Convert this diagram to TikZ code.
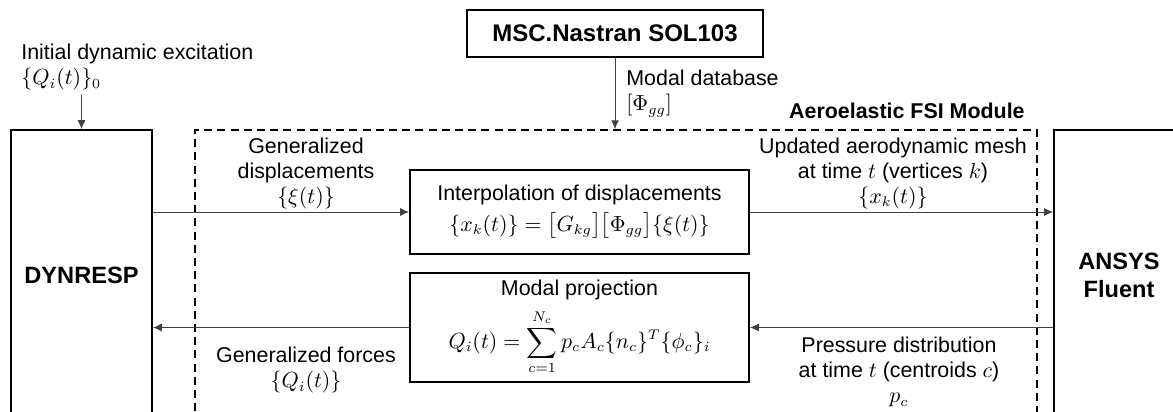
\documentclass[tikz,border=0pt]{standalone}
\usepackage{amsmath,amssymb}
\usepackage{fontspec}
\setmainfont{Liberation Sans}
\usetikzlibrary{arrows.meta, positioning}

\begin{document}
\begin{tikzpicture}[
            x=0.5pt, y=-0.5pt,
            every node/.style={font=\fontsize{10.7}{12.5}\selectfont},
            block/.style={
                rectangle,
                draw,
                line width=0.9pt,
                align=center,
                inner sep=0pt
            },
            module/.style={
                rectangle,
                draw,
                line width=0.75pt,
                dash pattern=on 4pt off 2.6pt
            },
            lbl/.style={align=center, inner sep=0pt},
            title/.style={font=\fontsize{11.8}{14}\selectfont\bfseries},
            arrow/.style={-{Latex[length=4.5pt,width=4pt]}, line width=0.5pt, draw=black!75}
        ]
        \useasboundingbox (0,0) rectangle (1173,412);
        \clip (0,0) rectangle (1173,412);

        % Blocks
        \node[block, title, minimum width=70.5pt, minimum height=145pt] (dyn) at (81.5,275) {DYNRESP};
        \node[block, title, minimum width=65pt, minimum height=145pt] (fluent) at (1119,275) {ANSYS\\Fluent};
        \node[block, font=\fontsize{12}{14}\selectfont\bfseries, minimum width=148pt, minimum height=23.5pt] (nastran) at (615,33.5) {MSC.Nastran SOL103};
        \node[module, minimum width=421pt, minimum height=150pt] (fsi) at (616,280) {};
        \node[block, minimum width=169.5pt, minimum height=42pt] (interp) at (579.5,212)
            {Interpolation of displacements\\[3pt] $\{x_k(t)\} = \bigl[G_{kg}\bigr]\bigl[\Phi_{gg}\bigr]\{\xi(t)\}$};
        \node[block, minimum width=169.5pt, minimum height=54.5pt] (proj) at (579.5,327.5)
            {Modal projection\\[4pt] $\displaystyle Q_i(t) = \sum_{c=1}^{N_c} p_c A_c \{n_c\}^T \{\phi_c\}_i$};

        % Labels
        \node[lbl, font=\fontsize{10.7}{13.5}\selectfont\bfseries, anchor=base east] (fsititle) at (1025,118) {Aeroelastic FSI Module};
        \node[lbl, align=left, anchor=north west] (init) at (21,44) {Initial dynamic excitation\\ $\{Q_i(t)\}_0$};
        \node[lbl, align=left, anchor=north west] (modes) at (626,70) {Modal database\\ $[\Phi_{gg}]$};
        \node[lbl, anchor=south] (gdisp) at (306,209) {Generalized\\displacements\\ $\{\xi(t)\}$};
        \node[lbl, anchor=south] (mesh) at (893,209) {Updated aerodynamic mesh\\at time $t$ (vertices $k$)\\ $\{x_k(t)\}$};
        \node[lbl, anchor=north] (gforce) at (306,347) {Generalized forces\\ $\{Q_i(t)\}$};
        \node[lbl, anchor=north] (press) at (899,337) {Pressure distribution\\at time $t$ (centroids $c$)\\ $p_c$};

        % Arrows
        \draw[arrow] (init.south -| dyn.north) ++(0,4) -- (dyn.north);
        \draw[arrow] (nastran.south) -- (nastran.south |- fsi.north);
        \draw[arrow] (dyn.east |- interp.west) -- (interp.west);
        \draw[arrow] (interp.east) -- (fluent.west |- interp.east);
        \draw[arrow] (fluent.west |- proj.east) -- (proj.east);
        \draw[arrow] (proj.west) -- (dyn.east |- proj.west);

        \end{tikzpicture}
\end{document}
